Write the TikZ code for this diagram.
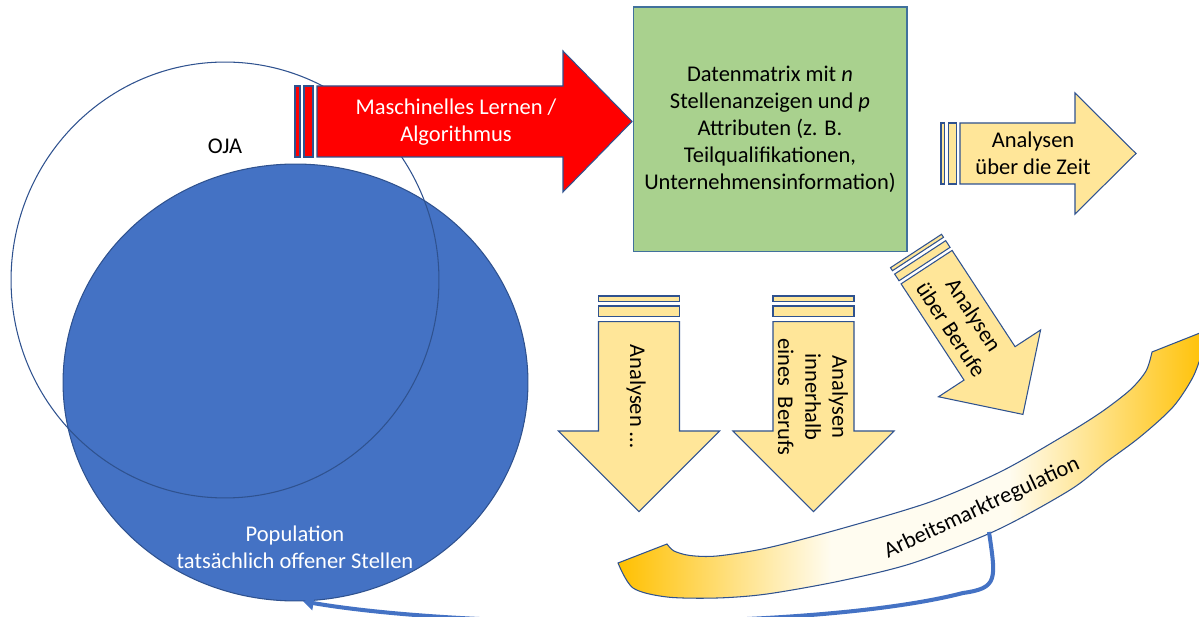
\documentclass[tikz,border=0pt]{standalone}
\usepackage{fontspec}
\setmainfont{Carlito}
\usepackage{tikz}
\usetikzlibrary{arrows.meta, positioning, shapes.geometric}
\definecolor{popblue}{RGB}{68,114,196}
\definecolor{edgeblue}{RGB}{47,82,143}
\definecolor{boxedge}{RGB}{65,113,156}
\definecolor{arrred}{RGB}{255,0,0}
\definecolor{matgreen}{RGB}{169,209,142}
\definecolor{lightgold}{RGB}{255,230,153}
\definecolor{gold}{RGB}{255,192,0}
\definecolor{cream}{RGB}{255,252,240}
\pgfdeclarehorizontalshading{regshade}{100bp}{color(0bp)=(gold); color(25bp)=(gold); color(43bp)=(cream); color(58bp)=(cream); color(75bp)=(gold); color(100bp)=(gold)}
\tikzset{
  thinline/.style={draw=edgeblue, line width=0.6pt},
  redarr/.style={thinline, fill=arrred},
  goldarr/.style={thinline, fill=lightgold},
  lbl/.style={font=\fontsize{12.8}{15.4}\selectfont, align=center},
  conn/.style={draw=popblue, line width=2.3pt, -{Triangle[length=6pt, width=8pt]}}
}

\begin{document}
\begin{tikzpicture}[x=0.02cm, y=-0.02cm]
  \useasboundingbox (0,0) rectangle (1199,617);
  % population and OJA
  \node[ellipse, fill=popblue, thinline, minimum width=9.3cm, minimum height=8.74cm, inner sep=0] (pop) at (295.5,382.5) {};
  \node[ellipse, thinline, minimum width=8.56cm, minimum height=8.72cm, inner sep=0] (oja) at (225,280) {};
  \node[lbl] (ojalbl) at (225,146) {OJA};
  \node[lbl, text=white] (poplbl) at (295,547) {Population\\tatsächlich offener Stellen};

  % red arrow
  \draw[redarr] (295,86) rectangle (300,157);
  \draw[redarr] (304,86) rectangle (313,157);
  \draw[redarr] (317,86) -- (563,86) -- (563,51) -- (632,121.5) -- (563,192) -- (563,157) -- (317,157) -- cycle;
  \node[lbl, text=white] (ml) at (456,122) {Maschinelles Lernen /\\Algorithmus};

  % data matrix
  \node[lbl, draw=boxedge, fill=matgreen, line width=0.6pt, minimum width=5.48cm, minimum height=4.9cm] (dm) at (770,129.5)
    {Datenmatrix mit \textit{n}\\Stellenanzeigen und \textit{p}\\Attributen (z. B.\\Teilqualifikationen,\\Unternehmensinformation)};

  % over time
  \draw[goldarr] (941,123) rectangle (944.5,184);
  \draw[goldarr] (948.5,123) rectangle (956.5,184);
  \draw[goldarr] (960,123) -- (1075,123) -- (1075,93) -- (1136,153.5) -- (1075,214) -- (1075,184) -- (960,184) -- cycle;
  \node[lbl] (zeit) at (1033,153.5) {Analysen\\über die Zeit};

  % across occupations
  \begin{scope}[shift={(916,251)}, rotate=-56.8]
    \draw[goldarr] (0,-30.5) -- (3.6,-30.5) -- (3.6,30.5) -- (0,30.5) -- cycle;
    \draw[goldarr] (7.6,-30.5) -- (15.6,-30.5) -- (15.6,30.5) -- (7.6,30.5) -- cycle;
    \draw[goldarr] (19.3,-30.5) -- (134.3,-30.5) -- (134.3,-61) -- (195.3,0) -- (134.3,61) -- (134.3,30.5) -- (19.3,30.5) -- cycle;
    \node[lbl, rotate=-56.8] (berufe) at (85,0) {Analysen\\über Berufe};
  \end{scope}

  % downward arrows
  \draw[goldarr] (598.5,296) rectangle (679.5,301.7);
  \draw[goldarr] (598.5,306) rectangle (679.5,316.7);
  \draw[goldarr] (598.5,321.7) -- (598.5,431) -- (558.3,431) -- (639,511.7) -- (719.7,431) -- (679.5,431) -- (679.5,321.7) -- cycle;
  \node[lbl, rotate=-90] (dots) at (636,396) {Analysen \dots};

  \draw[goldarr] (773,296) rectangle (854,301.7);
  \draw[goldarr] (773,306) rectangle (854,316.7);
  \draw[goldarr] (773,321.7) -- (773,431) -- (732.8,431) -- (813.5,511.7) -- (894.2,431) -- (854,431) -- (854,321.7) -- cycle;
  \node[lbl, rotate=-90] (innen) at (813,397) {Analysen\\innerhalb\\eines\ \ Berufs};

  % regulation band
  \shade[shading=regshade, thinline]
    plot[smooth] coordinates {(667,544) (674,551) (690,555.5) (717,556) (767,548) (840,529) (930,502) (1000,472) (1060,438) (1100,413) (1130,390) (1146,371) (1152,352)}
    -- (1210,329)
    -- plot[smooth] coordinates {(1203,350) (1193,377) (1173,407) (1140,437) (1105,463) (1070,490) (997,530) (913,563) (840,581) (767,594) (717,598) (667,597) (633,588) (618,563)}
    -- cycle;
  \node[lbl, rotate=25] (amr) at (982,508) {Arbeitsmarktregulation};

  % feedback
  \coordinate (regout) at (989,532);
  \draw[conn] (regout) .. controls (996,580) and (998,588) .. (963,593) .. controls (820,630) and (470,630) .. (pop.-88);
\end{tikzpicture}
\end{document}
